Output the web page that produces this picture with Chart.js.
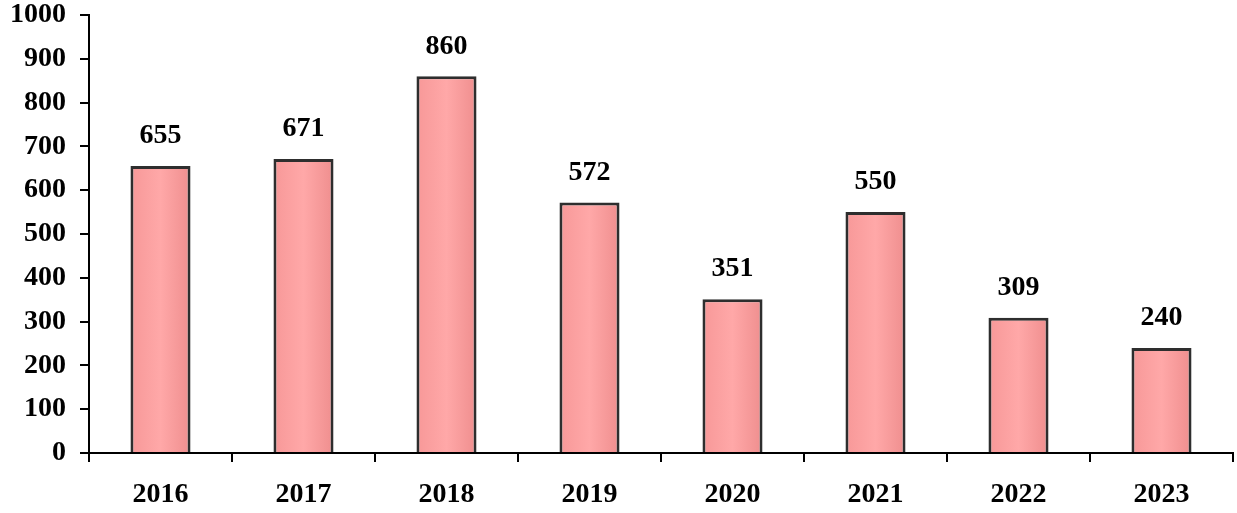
<!DOCTYPE html>
<html lang="en">
<head>
    <meta charset="UTF-8">
    <title>Yearly Chart</title>
    <style>
        html, body {
            margin: 0;
            padding: 0;
            background: #fff;
        }
        .chart-container {
            width: 1237px;
            height: 513px;
        }
    </style>
</head>
<body>
    <div class="chart-container">
        <canvas id="yearChart"></canvas>
    </div>

    <script src="https://cdn.jsdelivr.net/npm/chart.js"></script>
    <script>
        // Data
        const years = ['2016', '2017', '2018', '2019', '2020', '2021', '2022', '2023'];
        const values = [655, 671, 860, 572, 351, 550, 309, 240];
        const yTicks = [0, 100, 200, 300, 400, 500, 600, 700, 800, 900, 1000];

        const fontFamily = '"Liberation Serif", "Times New Roman", serif';
        const catPercent = 0.42;

        // Bar fill: pink with a lighter middle stripe
        function barFill(context) {
            const chart = context.chart;
            const xScale = chart.scales.x;
            if (!chart.chartArea || !xScale || context.dataIndex === undefined) return '#f9a0a0';
            const cx = xScale.getPixelForValue(context.dataIndex);
            const half = (xScale.width / years.length) * catPercent / 2;
            if (!Number.isFinite(cx) || !Number.isFinite(half)) return '#f9a0a0';
            const g = chart.ctx.createLinearGradient(cx - half, 0, cx + half, 0);
            g.addColorStop(0, '#f79898');
            g.addColorStop(0.5, '#ffa8a8');
            g.addColorStop(1, '#ef8e8e');
            return g;
        }

        // Draw the value above each bar
        const valueLabels = {
            id: 'valueLabels',
            afterDatasetsDraw(chart) {
                const ctx = chart.ctx;
                const meta = chart.getDatasetMeta(0);
                ctx.save();
                ctx.font = 'bold 28px ' + fontFamily;
                ctx.fillStyle = '#000';
                ctx.textAlign = 'center';
                ctx.textBaseline = 'bottom';
                meta.data.forEach((bar, i) => {
                    ctx.fillText(values[i], bar.x, bar.y - 16);
                });
                ctx.restore();
            }
        };

        const ctx = document.getElementById('yearChart').getContext('2d');
        const chart = new Chart(ctx, {
            type: 'bar',
            data: {
                labels: years,
                datasets: [{
                    data: values,
                    backgroundColor: barFill,
                    borderColor: '#2e2e2e',
                    borderWidth: 3,
                    borderSkipped: 'bottom',
                    categoryPercentage: catPercent,
                    barPercentage: 1
                }]
            },
            options: {
                responsive: true,
                maintainAspectRatio: false,
                animation: false,
                layout: {
                    padding: { top: 15, right: 4, left: 0, bottom: 0 }
                },
                plugins: {
                    legend: { display: false },
                    tooltip: { enabled: false }
                },
                scales: {
                    x: {
                        grid: {
                            offset: true,
                            drawOnChartArea: false,
                            color: '#000',
                            lineWidth: 2,
                            tickLength: 9
                        },
                        border: { color: '#000', width: 2 },
                        ticks: {
                            color: '#000',
                            padding: 16,
                            font: { family: fontFamily, size: 28, weight: 'bold' }
                        },
                        afterFit(scale) { scale.height = 60; }
                    },
                    y: {
                        min: 0,
                        max: 1000,
                        afterBuildTicks(scale) {
                            scale.ticks = yTicks.map(v => ({ value: v }));
                        },
                        grid: {
                            drawOnChartArea: false,
                            color: '#000',
                            lineWidth: 2,
                            tickLength: 9
                        },
                        border: { color: '#000', width: 2 },
                        ticks: {
                            color: '#000',
                            padding: 14,
                            callback: v => String(v),
                            font: { family: fontFamily, size: 28, weight: 'bold' }
                        },
                        afterFit(scale) {
                            scale.width = 89;
                            scale.paddingTop = 0;
                            scale.paddingBottom = 0;
                        }
                    }
                }
            },
            plugins: [valueLabels]
        });
    </script>
</body>
</html>
